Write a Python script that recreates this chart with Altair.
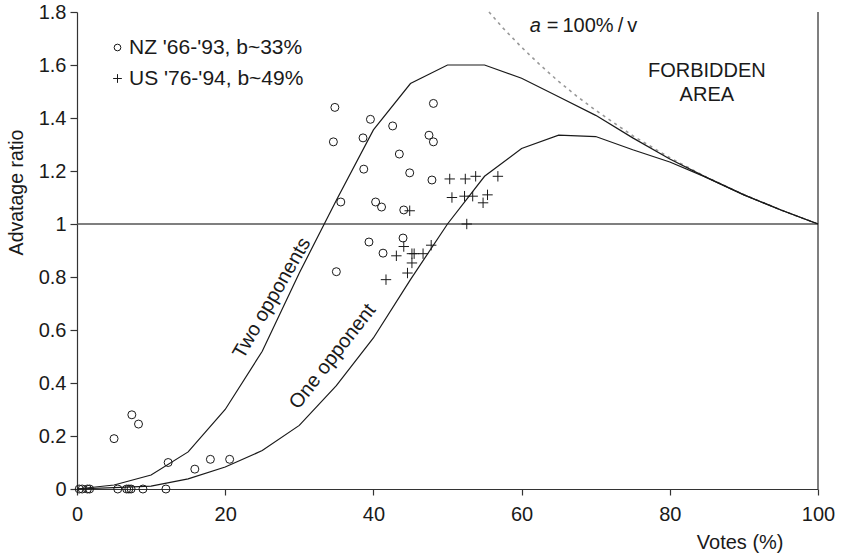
import altair as alt
import pandas as pd

# ---- data ----
votes = [0, 5, 10, 15, 20, 25, 30, 35, 40, 45, 50, 55, 60, 65, 70, 75, 80, 85, 90, 95, 100]
two_opp = [0, 0.015, 0.053, 0.14, 0.30, 0.52, 0.815, 1.09, 1.355, 1.53, 1.6, 1.6, 1.55, 1.48,
           1.41, 1.325, 1.245, 1.175, 1.11, 1.053, 1.0]
one_opp = [0, 0.005, 0.011, 0.038, 0.083, 0.145, 0.24, 0.39, 0.57, 0.79, 1.0, 1.18, 1.285, 1.335,
           1.33, 1.28, 1.234, 1.175, 1.11, 1.053, 1.0]

bound_v = [55.6, 57.5, 60, 62.5, 65, 67.5, 70, 75, 80, 85, 90, 95, 100]
bound_a = [1.8, 1.739, 1.667, 1.6, 1.538, 1.481, 1.429, 1.333, 1.25, 1.176, 1.111, 1.053, 1.0]

nz_v = [0.3, 0.7, 1.4, 1.7, 5.5, 6.7, 7.0, 7.3, 8.9, 12.0,
        5.0, 7.4, 8.3, 12.3, 15.9, 18.0, 20.6,
        34.8, 34.6, 39.6, 38.6, 42.6, 48.1, 47.5, 48.1, 43.5, 38.7, 44.9, 47.9,
        35.6, 40.3, 41.1, 44.1, 44.0, 39.4, 41.3, 35.0]
nz_a = [0, 0, 0, 0, 0, 0, 0, 0, 0, 0,
        0.19, 0.28, 0.245, 0.10, 0.075, 0.112, 0.112,
        1.44, 1.31, 1.395, 1.325, 1.37, 1.455, 1.335, 1.31, 1.264, 1.207, 1.193, 1.166,
        1.083, 1.083, 1.064, 1.053, 0.947, 0.932, 0.89, 0.82]

us_v = [50.3, 52.4, 53.8, 56.8, 50.6, 52.3, 53.4, 55.4, 54.8, 52.6, 44.9, 47.8, 44.1, 43.1,
        45.2, 45.5, 46.7, 45.2, 44.6, 41.7]
us_a = [1.17, 1.17, 1.18, 1.18, 1.10, 1.105, 1.105, 1.11, 1.08, 1.0, 1.05, 0.92, 0.915, 0.88,
        0.888, 0.888, 0.888, 0.853, 0.815, 0.79]

series_names = ["NZ '66-'93, b~33%", "US '76-'94, b~49%"]

# ---- styling ----
FONT = "Liberation Sans"
INK = "#1a1a1a"
CROSS = "M-1.3,0L1.3,0M0,-1.3L0,1.3"

XS = alt.Scale(domain=[0, 100], nice=False, zero=False)
YS = alt.Scale(domain=[0, 1.8], nice=False, zero=False)

x_axis = alt.Axis(values=[0, 20, 40, 60, 80, 100], grid=False, title="Votes (%)",
                  titleX=706, titleY=59, titleAlign="right", titleBaseline="alphabetic",
                  titleAnchor="end", tickSize=6, labelPadding=9, format="d",
                  labelFlush=False)
y_axis = alt.Axis(values=[0, 0.2, 0.4, 0.6, 0.8, 1.0, 1.2, 1.4, 1.6, 1.8], grid=False,
                  title="Advatage ratio", format=".1~f", tickSize=7, labelPadding=4,
                  titleX=-55, titleY=180, titleAngle=-90, titleAlign="center",
                  titleBaseline="alphabetic", titleFont="Liberation Sans Narrow, Liberation Sans",
                  titleFontSize=19.5, labelFlush=False)

X = alt.X("v:Q", scale=XS, axis=x_axis)
Y = alt.Y("a:Q", scale=YS, axis=y_axis)

curves = pd.DataFrame({
    "v": votes + votes,
    "a": two_opp + one_opp,
    "curve": ["two"] * len(votes) + ["one"] * len(votes),
})
bound = pd.DataFrame({"v": bound_v, "a": bound_a})
pts = pd.DataFrame({
    "v": nz_v + us_v,
    "a": nz_a + us_a,
    "series": [series_names[0]] * len(nz_v) + [series_names[1]] * len(us_v),
})

hline = alt.Chart(pd.DataFrame({"v": [0], "v2": [100], "a": [1.0]})).mark_rule(
    color="#555555", strokeWidth=1.5).encode(x=X, x2="v2:Q", y=Y)
vline = alt.Chart(pd.DataFrame({"v": [100], "a": [0.0], "a2": [1.8]})).mark_rule(
    color="#555555", strokeWidth=1.5).encode(x=X, y=Y, y2="a2:Q")

dotted = alt.Chart(bound).mark_line(color="#999999", strokeWidth=1.6,
                                     strokeDash=[3, 4]).encode(x=X, y=Y)

lines = alt.Chart(curves).mark_line(color=INK, strokeWidth=1.2).encode(
    x=X, y=Y, detail="curve:N", order="v:Q")

points = alt.Chart(pts).mark_point(filled=False, color=INK, strokeWidth=1, size=64,
                                   opacity=1).encode(
    x=X, y=Y,
    shape=alt.Shape("series:N",
                    scale=alt.Scale(domain=series_names, range=["circle", CROSS]),
                    legend=alt.Legend(title=None, orient="none", legendX=30, legendY=25,
                                      labelFontSize=21, labelFont=FONT, labelColor=INK,
                                      labelLimit=400,
                                      symbolSize=45, symbolStrokeWidth=1,
                                      symbolStrokeColor=INK, symbolFillColor="transparent",
                                      rowPadding=9, labelOffset=1, padding=0)))


def label(text, v, a, angle=0, align="center", baseline="middle", italic=False, lb=None):
    kw = dict(font=FONT, fontSize=20, color=INK, align=align, baseline=baseline, angle=angle)
    if italic:
        kw["fontStyle"] = "italic"
    if lb:
        kw["lineBreak"] = lb
        kw["lineHeight"] = 24
    return alt.Chart(pd.DataFrame({"v": [v], "a": [a], "t": [text]})).mark_text(**kw).encode(
        x=X, y=Y, text="t:N")


texts = [
    label("Two opponents", 26.3, 0.72, angle=300),
    label("One opponent", 34.5, 0.50, angle=308),
    label("a", 61.1, 1.725, align="left", baseline="alphabetic", italic=True),
    label("=\u2009100%\u2009/\u2009v", 63.4, 1.725, align="left", baseline="alphabetic"),
    label("FORBIDDEN\nAREA", 85.0, 1.555, baseline="alphabetic", lb="\n"),
]

chart = alt.layer(hline, vline, dotted, lines, points, *texts).properties(
    width=741, height=477,
    autosize=alt.AutoSizeParams(type="none"),
    padding={"left": 77, "top": 12, "right": 25, "bottom": 67},
    background="white",
).configure_view(strokeWidth=0).configure_axis(
    labelFont=FONT, labelFontSize=20, labelColor=INK,
    titleFont=FONT, titleFontSize=20, titleColor=INK, titleFontWeight="normal",
    domainColor="#333333", tickColor="#333333", domainWidth=1.2, tickWidth=1.2,
)

chart.save("out.html", embed_options={"renderer": "svg", "actions": False})
